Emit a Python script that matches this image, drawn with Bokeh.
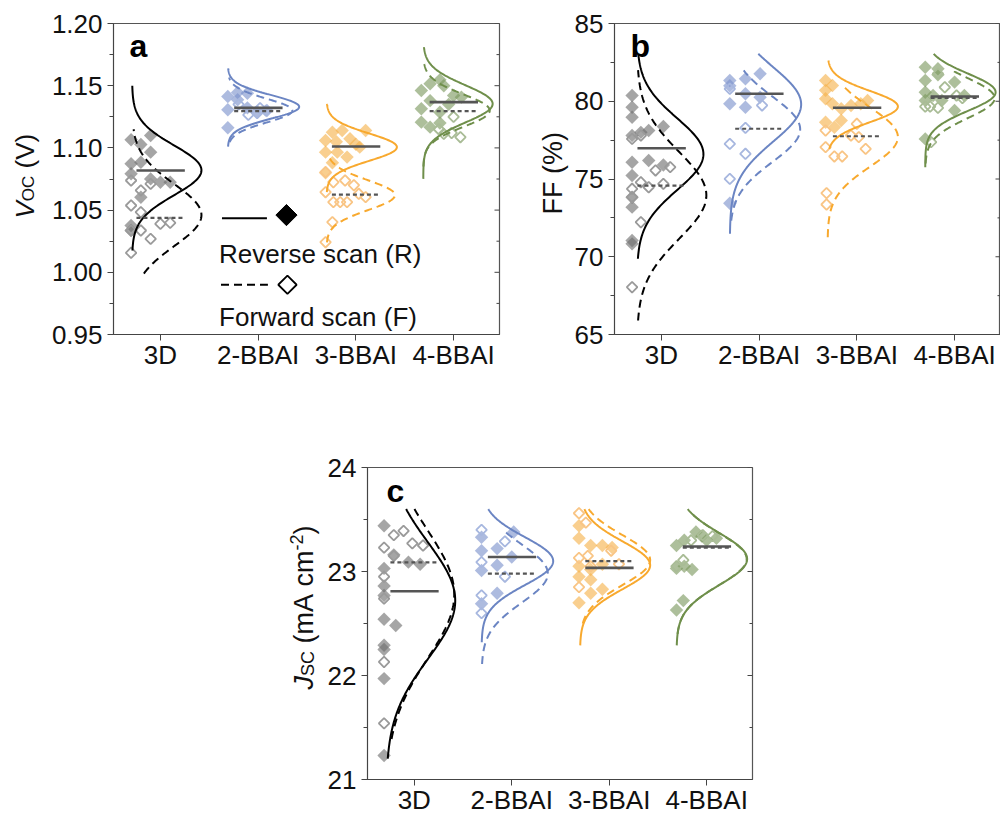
import numpy as np
from bokeh.plotting import figure
from bokeh.models import Range1d, FixedTicker, Label, PrintfTickFormatter
from bokeh.layouts import column, row
from bokeh.embed import file_html
from bokeh.resources import INLINE

# ---------------- data ----------------
CATEGORIES = ["3D", "2-BBAI", "3-BBAI", "4-BBAI"]
CAT_POS = [1, 2, 3, 4]

VOC_TICKS = [0.95, 1.00, 1.05, 1.10, 1.15, 1.20]
VOC_MINOR = [0.975, 1.025, 1.075, 1.125, 1.175]
FF_TICKS = [65, 70, 75, 80, 85]
FF_MINOR = [67.5, 72.5, 77.5, 82.5]
JSC_TICKS = [21, 22, 23, 24]
JSC_MINOR = [21.5, 22.5, 23.5]

# (jitter offset, value) pairs: reverse scan (filled) / forward scan (open)
VOC_REV = [
    [(-0.30, 1.1065), (-0.10, 1.110), (-0.20, 1.1027), (-0.10, 1.0966), (-0.30, 1.0872), (-0.20, 1.0885),
     (-0.30, 1.0792), (-0.10, 1.0751), (0.00, 1.0724), (0.10, 1.0724), (-0.20, 1.0604), (-0.30, 1.0376), (-0.30, 1.0336)],
    [(-0.31, 1.1413), (-0.21, 1.1387), (-0.11, 1.1440), (-0.21, 1.1445), (-0.31, 1.1306), (-0.11, 1.1322),
     (-0.01, 1.1290), (-0.31, 1.1162), (0.09, 1.1300)],
    [(-0.31, 1.106), (-0.24, 1.1126), (-0.14, 1.114), (-0.06, 1.1073), (0.10, 1.114), (0.04, 1.1006), (-0.31, 1.0966),
     (-0.19, 1.0966), (-0.09, 1.0926), (-0.24, 1.088), (-0.31, 1.080), (0.00, 1.103), (-0.20, 1.105)],
    [(-0.33, 1.1461), (-0.24, 1.1515), (-0.14, 1.1547), (-0.33, 1.1314), (-0.24, 1.1380), (-0.14, 1.1287),
     (-0.33, 1.1207), (-0.24, 1.1167), (-0.14, 1.120), (0.00, 1.1421), (0.08, 1.1408), (-0.05, 1.1350), (-0.10, 1.1500)],
]
VOC_FWD = [
    [(-0.30, 1.0738), (-0.20, 1.0658), (-0.10, 1.0711), (-0.30, 1.0537), (-0.20, 1.0483), (-0.20, 1.0336),
     (-0.10, 1.0269), (0.00, 1.0390), (0.10, 1.0398), (-0.30, 1.0336), (-0.30, 1.0157)],
    [(-0.01, 1.1280), (0.08, 1.1300), (-0.10, 1.1265), (-0.20, 1.1350), (0.02, 1.1320)],
    [(-0.31, 1.0805), (-0.23, 1.0724), (-0.11, 1.0738), (-0.31, 1.0644), (-0.23, 1.0564), (-0.16, 1.0564),
     (-0.09, 1.0564), (0.03, 1.0631), (0.10, 1.0604), (-0.24, 1.0403), (-0.31, 1.0242), (-0.02, 1.070)],
    [(-0.10, 1.1113), (0.07, 1.1086), (-0.02, 1.1120), (-0.15, 1.1150), (0.00, 1.125)],
]
FF_REV = [
    [(-0.30, 80.37), (-0.30, 79.62), (-0.30, 78.97), (-0.30, 77.8), (-0.13, 78.12), (0.02, 78.38), (-0.30, 76.08),
     (-0.13, 76.19), (0.02, 75.9), (-0.30, 75.22), (-0.30, 73.83), (-0.30, 73.19), (-0.30, 71.05), (-0.30, 70.83),
     (-0.21, 78.0)],
    [(-0.30, 81.33), (-0.14, 81.44), (0.01, 81.77), (-0.14, 80.48), (0.01, 80.26), (-0.30, 79.84), (-0.14, 79.62),
     (-0.30, 73.44), (-0.30, 81.0)],
    [(-0.32, 81.33), (-0.25, 81.01), (-0.32, 80.16), (-0.25, 79.84), (-0.16, 79.52), (-0.06, 79.73), (0.04, 79.84),
     (0.11, 80.05), (-0.32, 78.65), (-0.23, 78.33), (-0.16, 78.76), (-0.32, 80.7)],
    [(-0.30, 82.19), (-0.17, 82.09), (-0.30, 81.33), (0.00, 81.23), (-0.30, 80.58), (-0.22, 80.37), (-0.30, 80.05),
     (-0.13, 80.05), (0.00, 79.41), (-0.30, 77.58), (0.10, 80.37), (-0.17, 81.7)],
]
FF_FWD = [
    [(-0.30, 77.58), (-0.21, 77.8), (-0.06, 75.55), (0.09, 75.76), (-0.21, 74.79), (-0.13, 74.47), (0.02, 74.69),
     (-0.30, 74.37), (-0.30, 73.83), (-0.21, 72.22), (-0.30, 68.04)],
    [(-0.30, 80.8), (0.03, 79.73), (-0.14, 78.29), (-0.30, 77.26), (-0.14, 76.62), (-0.30, 75.01)],
    [(-0.32, 78.12), (-0.06, 77.8), (0.02, 77.69), (-0.32, 77.05), (-0.23, 76.45), (-0.15, 76.45), (0.09, 76.94),
     (0.00, 78.55), (-0.31, 74.09), (-0.31, 73.36)],
    [(-0.17, 81.77), (-0.10, 80.9), (-0.30, 79.66), (-0.25, 79.66), (-0.17, 79.58), (0.02, 80.37), (-0.24, 77.37),
     (0.08, 80.2)],
]
JSC_REV = [
    [(-0.31, 23.44), (-0.31, 23.03), (-0.31, 22.86), (-0.31, 22.77), (-0.21, 23.16), (-0.06, 23.09), (0.06, 23.07),
     (-0.31, 22.54), (-0.19, 22.48), (-0.31, 22.29), (-0.31, 21.97), (-0.31, 21.23), (-0.31, 22.25)],
    [(-0.31, 23.33), (-0.31, 23.20), (-0.15, 23.22), (0.02, 23.38), (-0.31, 23.01), (-0.15, 23.06), (0.00, 23.14),
     (-0.15, 22.79), (-0.31, 22.69)],
    [(-0.31, 23.44), (-0.31, 23.32), (-0.19, 23.25), (-0.07, 23.25), (0.03, 23.23), (-0.31, 23.05), (-0.19, 23.02),
     (-0.07, 23.07), (-0.31, 22.95), (-0.19, 22.79), (-0.07, 22.83), (-0.31, 22.70), (-0.19, 22.92)],
    [(-0.31, 23.25), (-0.23, 23.30), (-0.11, 23.38), (0.00, 23.30), (0.10, 23.32), (-0.31, 23.03), (-0.23, 23.05),
     (-0.15, 23.02), (-0.24, 22.72), (-0.31, 22.63), (-0.05, 23.34)],
]
JSC_FWD = [
    [(-0.21, 23.35), (-0.11, 23.39), (-0.31, 23.23), (-0.02, 23.27), (0.09, 23.25), (-0.31, 22.95), (-0.31, 22.74),
     (-0.31, 22.13), (-0.31, 21.54), (-0.21, 23.15)],
    [(-0.31, 23.40), (-0.07, 23.29), (-0.31, 23.09), (-0.07, 22.95), (-0.31, 22.77), (-0.31, 22.60)],
    [(-0.31, 23.56), (-0.24, 23.47), (-0.22, 23.15), (0.02, 23.20), (-0.31, 23.13), (0.10, 23.07), (-0.31, 22.85),
     (-0.19, 23.05)],
    [(-0.24, 23.11), (-0.16, 23.30), (-0.04, 23.35), (0.06, 23.34), (-0.31, 23.05)],
]

# normal-distribution fits: (mean, sigma, y_low, y_high, peak width in category units)
VOC_FIT_REV = [(1.082, 0.020, 1.0175, 1.150, 0.71), (1.133, 0.0095, 1.101, 1.164, 0.73),
               (1.1006, 0.011, 1.0644, 1.1354, 0.72), (1.1354, 0.015, 1.0751, 1.181, 0.71)]
VOC_FIT_FWD = [(1.046, 0.025, 0.999, 1.115, 0.71), (1.130, 0.0095, 1.1046, 1.1566, 0.66),
               (1.062, 0.012, 1.024, 1.095, 0.70), (1.130, 0.013, 1.085, 1.170, 0.68)]
FF_FIT_REV = [(76.6, 2.3, 69.87, 83.05, 0.68), (79.8, 2.4, 71.48, 83.05, 0.73),
              (79.66, 1.0, 76.94, 82.62, 0.72), (80.58, 1.2, 75.76, 83.05, 0.72)]
FF_FIT_FWD = [(73.95, 2.8, 65.9, 82.0, 0.71), (78.2, 2.1, 72.33, 81.98, 0.72),
              (77.7, 1.9, 71.26, 80.9, 0.72), (80.2, 1.3, 76.0, 82.0, 0.71)]
JSC_FIT_REV = [(22.72, 0.56, 21.20, 23.60, 0.71), (23.10, 0.23, 22.32, 23.60, 0.735),
               (23.06, 0.23, 22.29, 23.60, 0.72), (23.12, 0.25, 22.29, 23.60, 0.725)]
JSC_FIT_FWD = [(22.78, 0.62, 21.39, 23.60, 0.70), (22.98, 0.28, 22.11, 23.40, 0.68),
               (23.11, 0.24, 22.50, 23.60, 0.72), (23.12, 0.25, 22.40, 23.55, 0.72)]
VOC_BASE = [-0.29, -0.31, -0.30, -0.31]
FF_BASE = [-0.25, -0.30, -0.30, -0.30]
JSC_BASE = [-0.29, -0.31, -0.30, -0.31]

VOC_MEAN_REV = [1.0818, 1.1322, 1.1011, 1.1368]
VOC_MEAN_FWD = [1.0438, 1.1295, 1.0625, 1.1295]
FF_MEAN_REV = [76.98, 80.48, 79.58, 80.31]
FF_MEAN_FWD = [74.58, 78.23, 77.75, 80.22]
JSC_MEAN_REV = [22.81, 23.14, 23.035, 23.24]
JSC_MEAN_FWD = [23.087, 22.98, 23.10, 23.23]

# ---------------- style ----------------
CURVE_COLORS = ["#000000", "#6B85C3", "#F8A92E", "#6F8F4B"]
FILL_COLORS = ["#6D6D6D", "#7B92CC", "#F6B24B", "#7B985E"]
OPEN_COLORS = ["#9A9A9A", "#A7B7DF", "#F9C585", "#A9BC96"]
MEAN_COLOR = "#555555"
FONT = "Liberation Sans"
TXT = "#111111"
FS = "26px"
X0, X1 = 0.52, 4.47
NB = "\u00a0"

CW = {'V': 0.667, 'O': 0.778, 'C': 0.722, 'S': 0.667, 'J': 0.5, NB: 0.278, '(': 0.333, ')': 0.333,
      'm': 0.833, 'A': 0.667, 'c': 0.5, 'F': 0.611, '%': 0.889, '-': 0.333, '2': 0.556}


def tw(text, size):
    return sum(CW.get(ch, 0.556) for ch in text) * size


def make_fig(y0, y1, ticks, minor, fmt, fw, fh, bl, br, bt, bb):
    p = figure(x_range=Range1d(X0, X1), y_range=Range1d(y0, y1), frame_width=fw, frame_height=fh,
               min_border_left=bl, min_border_right=br, min_border_top=bt, min_border_bottom=bb,
               output_backend="svg", toolbar_location=None)
    p.grid.visible = False
    p.outline_line_color = "#555555"
    p.outline_line_width = 1.2
    xa = p.xaxis[0]
    xa.ticker = FixedTicker(ticks=CAT_POS, minor_ticks=[])
    xa.major_label_overrides = {c: n for c, n in zip(CAT_POS, CATEGORIES)}
    xa.major_tick_out = 6
    xa.major_tick_in = 0
    xa.axis_line_color = "#444444"
    xa.major_tick_line_color = "#444444"
    xa.major_label_text_font = FONT
    xa.major_label_text_font_size = FS
    xa.major_label_text_color = TXT
    xa.major_label_standoff = -1
    ya = p.yaxis[0]
    ya.ticker = FixedTicker(ticks=ticks, minor_ticks=minor)
    ya.formatter = PrintfTickFormatter(format=fmt)
    ya.major_tick_out = 6
    ya.major_tick_in = 0
    ya.minor_tick_out = 4
    ya.minor_tick_in = 0
    ya.axis_line_color = "#444444"
    ya.major_tick_line_color = "#444444"
    ya.minor_tick_line_color = "#444444"
    ya.major_label_text_font = FONT
    ya.major_label_text_font_size = FS
    ya.major_label_text_color = TXT
    ya.major_label_standoff = 5
    # inward ticks on the right spine
    ppu = fw / (X1 - X0)
    p.segment(x0=[X1] * len(ticks), y0=ticks, x1=[X1 - 5 / ppu] * len(ticks), y1=ticks,
              line_color="#444444", line_width=1)
    p.segment(x0=[X1] * len(minor), y0=minor, x1=[X1 - 3 / ppu] * len(minor), y1=minor,
              line_color="#444444", line_width=1)
    return p


def draw(p, rev, fwd, fit_rev, fit_fwd, base, mean_rev, mean_fwd):
    for i, c in enumerate(CAT_POS):
        xs = [c + o for o, v in rev[i]]
        ys = [v for o, v in rev[i]]
        p.scatter(xs, ys, marker="square", angle=np.pi / 4, size=9.5, fill_color=FILL_COLORS[i],
                  fill_alpha=0.62, line_color=None)
    for i, c in enumerate(CAT_POS):
        xs = [c + o for o, v in fwd[i]]
        ys = [v for o, v in fwd[i]]
        p.scatter(xs, ys, marker="square", angle=np.pi / 4, size=7.5, fill_color=None,
                  line_color=OPEN_COLORS[i], line_width=1.8)
    for i, c in enumerate(CAT_POS):
        for fit, dash in ((fit_rev[i], "solid"), (fit_fwd[i], "8 5")):
            mu, sg, lo, hi, amp = fit
            yy = np.linspace(lo, hi, 160)
            xx = c + base[i] + amp * np.exp(-0.5 * ((yy - mu) / sg) ** 2)
            p.line(xx, yy, line_color=CURVE_COLORS[i], line_width=2, line_dash=dash)
    for i, c in enumerate(CAT_POS):
        p.segment(x0=[c - 0.245], y0=[mean_rev[i]], x1=[c + 0.25], y1=[mean_rev[i]],
                  line_color=MEAN_COLOR, line_width=2.6)
        p.segment(x0=[c - 0.245], y0=[mean_fwd[i]], x1=[c + 0.25], y1=[mean_fwd[i]],
                  line_color=MEAN_COLOR, line_width=2.2, line_dash="4 3")


def label_fig(w, h, xr, yr, pieces, x, y_start):
    # a blank strip next to a panel carrying its rotated axis title (page-pixel coordinates)
    f = figure(width=w, height=h, x_range=Range1d(*xr), y_range=Range1d(*yr), min_border=0,
               x_axis_location=None, y_axis_location=None, output_backend="svg", toolbar_location=None)
    f.outline_line_color = None
    f.grid.visible = False
    y = y_start
    for t, s, st, sh in pieces:
        f.add_layout(Label(x=x + sh, y=y, text=t, angle=np.pi / 2,
                           text_font=FONT, text_font_size=f"{s}px", text_font_style=st,
                           text_color=TXT, text_align="left", text_baseline="alphabetic"))
        y -= tw(t, s)
    return f


def panel_letter(p, t, x):
    p.add_layout(Label(x=x, y=289, x_units="screen", y_units="screen", text=t, text_font=FONT,
                       text_font_size="32px", text_font_style="bold", text_color="#000000",
                       text_align="left", text_baseline="alphabetic"))


# ---------------- panel a ----------------
pa = make_fig(0.95, 1.20, VOC_TICKS, VOC_MINOR, "%.2f", 386, 311, 64, 10, 23, 60)
draw(pa, VOC_REV, VOC_FWD, VOC_FIT_REV, VOC_FIT_FWD, VOC_BASE, VOC_MEAN_REV, VOC_MEAN_FWD)
panel_letter(pa, "a", 16)

# legend (reverse / forward scan)
pa.line([1.63, 2.09], [1.0435, 1.0435], line_color="black", line_width=2)
pa.scatter([2.29], [1.046], marker="square", angle=np.pi / 4, size=15, fill_color="black", line_color="black")
pa.line([1.62, 2.10], [0.990, 0.990], line_color="black", line_width=2, line_dash="8 5")
pa.scatter([2.30], [0.990], marker="square", angle=np.pi / 4, size=13, fill_color="white",
           line_color="black", line_width=1.8)
pa.add_layout(Label(x=1.60, y=1.0145, text="Reverse scan (R)", text_font=FONT, text_font_size=FS,
                    text_color=TXT, text_baseline="alphabetic"))
pa.add_layout(Label(x=1.60, y=0.9637, text="Forward scan (F)", text_font=FONT, text_font_size=FS,
                    text_color=TXT, text_baseline="alphabetic"))
la = label_fig(48, 394, (0, 48), (334, 23),
               [("V", 26, "italic", 0), ("OC", 17, "normal", 3.5), (NB + "(V)", 26, "normal", 0)],
               24, 218)

# ---------------- panel b ----------------
pb = make_fig(65, 85, FF_TICKS, FF_MINOR, "%d", 386, 311, 45, 0, 23, 60)
draw(pb, FF_REV, FF_FWD, FF_FIT_REV, FF_FIT_FWD, FF_BASE, FF_MEAN_REV, FF_MEAN_FWD)
panel_letter(pb, "b", 16)
lb = label_fig(60, 394, (508, 568), (334, 23), [("FF" + NB + "(%)", 27, "normal", 0)], 551.6, 214)

# ---------------- panel c ----------------
pc = make_fig(21, 24, JSC_TICKS, JSC_MINOR, "%d", 385, 312, 40, 10, 73, 38)
draw(pc, JSC_REV, JSC_FWD, JSC_FIT_REV, JSC_FIT_FWD, JSC_BASE, JSC_MEAN_REV, JSC_MEAN_FWD)
panel_letter(pc, "c", 19)
lc = label_fig(324, 423, (0, 324), (779, 467),
               [("J", 27, "italic", 0), ("SC", 18, "normal", 3.8), (NB + "(mA" + NB + "cm", 27, "normal", 0),
                ("-2", 18, "normal", -7.2), (")", 27, "normal", 0)], 303.6, 689)

layout = column(row(la, pa, lb, pb), row(lc, pc))
open("out.html", "w").write(file_html(layout, INLINE))
